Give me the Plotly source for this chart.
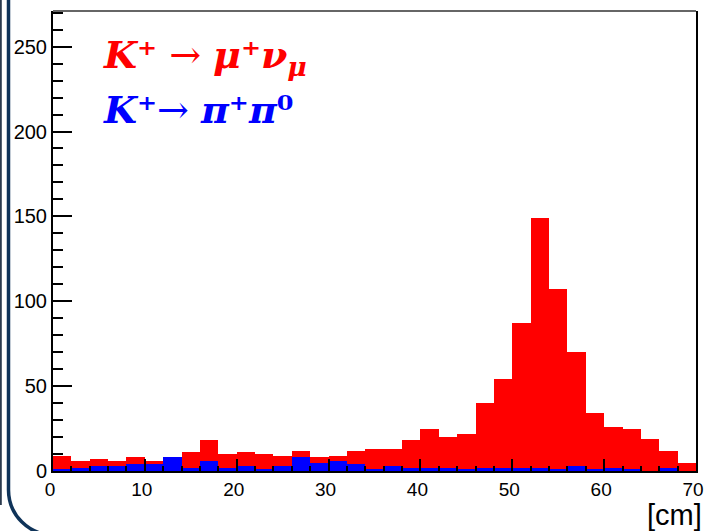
import plotly.graph_objects as go

# Histogram binning: 35 bins of 2 cm between 0 and 70 cm
bin_edges_lo = [2 * i for i in range(35)]
bin_width = 2

# Entries per bin
kmu2_counts = [9, 6, 7, 6, 8, 6, 7, 11, 18, 10, 11, 10, 9, 12, 8, 9, 12, 13,
               13, 18, 25, 20, 22, 40, 54, 87, 149, 107, 70, 34, 26, 25, 19, 12, 5]
kpi2_counts = [1, 2, 3, 3, 4, 4, 8, 2, 6, 2, 3, 1, 3, 8, 5, 6, 4, 1,
               3, 2, 2, 2, 1, 2, 2, 2, 2, 1, 3, 1, 2, 1, 0, 2, 0]

x_ticks = [0, 10, 20, 30, 40, 50, 60, 70]
y_ticks = [0, 50, 100, 150, 200, 250]

W, H = 705, 531
ML, MR, MT, MB = 53, 9, 11, 60
PW, PH = W - ML - MR, H - MT - MB


def px(x):
    """pixel column -> paper x"""
    return (x - ML) / PW


def py(y):
    """pixel row -> paper y"""
    return (H - MB - y) / PH


centers = [lo + bin_width / 2 for lo in bin_edges_lo]

fig = go.Figure()
fig.add_trace(go.Bar(x=centers, y=kmu2_counts, width=bin_width,
                     marker=dict(color="#ff0000", line=dict(width=0)),
                     showlegend=False))
fig.add_trace(go.Bar(x=centers, y=kpi2_counts, width=bin_width,
                     marker=dict(color="#0000ff", line=dict(width=0)),
                     showlegend=False))

fig.update_layout(
    width=W, height=H,
    margin=dict(l=ML, r=MR, t=MT, b=MB, autoexpand=False),
    paper_bgcolor="white", plot_bgcolor="white",
    barmode="overlay", bargap=0,
    xaxis=dict(range=[0, 70], tickvals=x_ticks, ticktext=[str(v) for v in x_ticks],
               ticks="inside", ticklen=12, tickwidth=1.5, tickcolor="black",
               minor=dict(dtick=2, tick0=0, ticks="inside", ticklen=5,
                          tickwidth=1.5, tickcolor="black", showgrid=False),
               showline=True, linecolor="black", linewidth=2, automargin=False,
               ticklabeloverflow="allow", ticklabelshift=-3,
               showgrid=False, zeroline=False,
               tickfont=dict(family="Liberation Sans", size=19, color="black")),
    yaxis=dict(range=[0, 271], tickvals=y_ticks, ticktext=[str(v) for v in y_ticks],
               ticks="inside", ticklen=19, tickwidth=1.7, tickcolor="black",
               minor=dict(dtick=10, tick0=0, ticks="inside", ticklen=10,
                          tickwidth=1.5, tickcolor="black", showgrid=False),
               showline=True, linecolor="black", linewidth=2, mirror=True,
               automargin=False, ticklabeloverflow="allow",
               showgrid=False, zeroline=False,
               tickfont=dict(family="Liberation Sans", size=20, color="black")),
)

# frame top edge
fig.add_shape(type="line", xref="paper", yref="paper", x0=0, x1=1, y0=1, y1=1,
              line=dict(color="#666666", width=2), layer="above")

# rounded page border on the left / bottom
k = 0.5523 * 45
border = (f"M {px(8.5)},{py(-5)} L {px(8.5)},{py(490)} "
          f"C {px(8.5)},{py(490 + k)} {px(53.5 - k)},{py(535)} {px(53.5)},{py(535)} "
          f"L {px(720)},{py(535)}")
fig.add_shape(type="path", xref="paper", yref="paper", path=border,
              line=dict(color="#0f3359", width=3.5))
fig.add_shape(type="line", xref="paper", yref="paper",
              x0=px(0.8), x1=px(0.8), y0=py(-5), y1=py(505),
              line=dict(color="#2b3a4e", width=2))

legend_font = "DejaVu Serif"
fig.add_annotation(xref="paper", yref="paper", x=px(101), y=py(57),
                   xanchor="left", yanchor="middle", showarrow=False,
                   text="<b><i>K</i>⁺</b> → <b><i>μ</i>⁺<i>ν</i><sub><i>μ</i></sub></b>",
                   font=dict(family=legend_font, size=38, color="#ff0000"))
fig.add_annotation(xref="paper", yref="paper", x=px(101), y=py(110),
                   xanchor="left", yanchor="middle", showarrow=False,
                   text="<b><i>K</i>⁺</b>→ <b><i>π</i>⁺<i>π</i>⁰</b>",
                   font=dict(family=legend_font, size=38, color="#0000ff"))

# axis unit label
fig.add_annotation(xref="paper", yref="paper", x=px(704), y=py(515),
                   xanchor="right", yanchor="middle", showarrow=False,
                   text="[cm]",
                   font=dict(family="Liberation Sans", size=29, color="black"))

fig.write_html("out.html")
